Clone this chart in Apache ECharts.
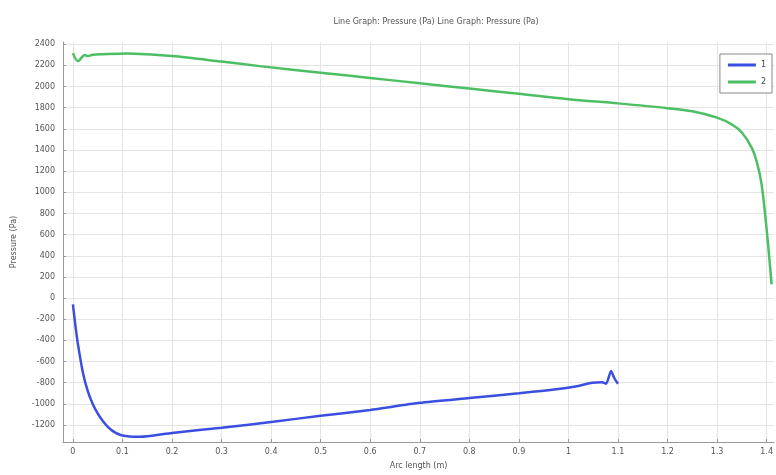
<!DOCTYPE html>
<html><head><meta charset="utf-8">
<script src="https://cdn.jsdelivr.net/npm/echarts@6/dist/echarts.min.js"></script>
<style>html,body{margin:0;padding:0;background:#fff}#c{width:776px;height:475px}</style>
</head><body><div id="c"></div>
<script>
const titleText = "Line Graph: Pressure (Pa) Line Graph: Pressure (Pa)";
const xTicks = [0,0.1,0.2,0.3,0.4,0.5,0.6,0.7,0.8,0.9,1,1.1,1.2,1.3,1.4];
const yTicks = [-1200,-1000,-800,-600,-400,-200,0,200,400,600,800,1000,1200,1400,1600,1800,2000,2200,2400];
const series1X = [0.0,0.005,0.01,0.02,0.03,0.04,0.05,0.06,0.07,0.08,0.09,0.1,0.115,0.13,0.16,0.2,0.3,0.4,0.5,0.6,0.7,0.8,0.9,0.98,1.02,1.048,1.068,1.076,1.086,1.093,1.1];
const series1Y = [-60,-260,-430,-700,-880,-1000,-1090,-1160,-1215,-1255,-1282,-1298,-1308,-1311,-1300,-1274,-1226,-1170,-1113,-1057,-990,-945,-900,-860,-830,-800,-795,-810,-690,-760,-810];
const series2X = [0.0,0.01,0.024,0.03,0.04,0.06,0.11,0.2,0.3,0.377,0.5,0.6,0.7,0.8,0.9,1.0,1.1,1.2,1.25,1.3,1.33,1.35,1.37,1.38,1.39,1.4,1.405,1.41];
const series2Y = [2315,2240,2296,2287,2300,2305,2312,2287,2235,2192,2130,2080,2030,1980,1930,1880,1840,1795,1765,1705,1640,1565,1420,1290,1070,650,400,130];
const names = ["1","2"];

const zip = (xs, ys) => xs.map((x,i)=>[x, ys[i]]);
const chart = echarts.init(document.getElementById('c'), null, {renderer:'canvas'});
const axisFont = {fontFamily:'DejaVu Sans', fontSize:8, color:'#555'};
chart.setOption({
  animation:false,
  backgroundColor:'#fff',
  title:{text:titleText, left:431, top:13, textAlign:'center',
    textStyle:{fontFamily:'DejaVu Sans', fontSize:8, fontWeight:'normal', color:'#555'}},
  grid:{left:63, right:1, top:42, bottom:32},
  legend:{data:names, orient:'vertical', right:4, top:54, itemWidth:28, itemHeight:3, itemGap:9,
    backgroundColor:'#fff', borderColor:'#888', borderWidth:1, padding:[7,6,7,8],
    textStyle:{fontFamily:'DejaVu Sans', fontSize:8, color:'#444'}, icon:'rect'},
  xAxis:{type:'value', min:-0.02, max:1.415,
    name:'Arc length (m)', nameLocation:'middle', nameGap:20,
    nameTextStyle:{fontFamily:'DejaVu Sans', fontSize:8, color:'#555'},
    axisLine:{show:true, onZero:false, lineStyle:{color:'#999'}},
    axisTick:{show:true, inside:true, length:3, lineStyle:{color:'#999'}, customValues:xTicks},
    axisLabel:Object.assign({}, axisFont, {margin:6, customValues:xTicks, formatter:v=>String(v)}),
    splitLine:{show:true, lineStyle:{color:'#e4e4e4'}}},
  yAxis:{type:'value', min:-1360, max:2420,
    name:'Pressure (Pa)', nameLocation:'middle', nameGap:45, nameRotate:90,
    nameTextStyle:{fontFamily:'DejaVu Sans', fontSize:8, color:'#555'},
    axisLine:{show:true, onZero:false, lineStyle:{color:'#999'}},
    axisTick:{show:true, inside:true, length:3, lineStyle:{color:'#999'}, customValues:yTicks},
    axisLabel:Object.assign({}, axisFont, {margin:8, customValues:yTicks, formatter:v=>String(v)}),
    splitLine:{show:true, lineStyle:{color:'#e4e4e4'}}},
  series:[
    {name:names[0], type:'line', data:zip(series1X, series1Y), smooth:0.2, showSymbol:false,
      lineStyle:{color:'#3b4ee0', width:2.5}, itemStyle:{color:'#3b4ee0'}},
    {name:names[1], type:'line', data:zip(series2X, series2Y), smooth:0.3, showSymbol:false,
      lineStyle:{color:'#4cbf64', width:2.5}, itemStyle:{color:'#4cbf64'}}
  ]
});
</script></body></html>
